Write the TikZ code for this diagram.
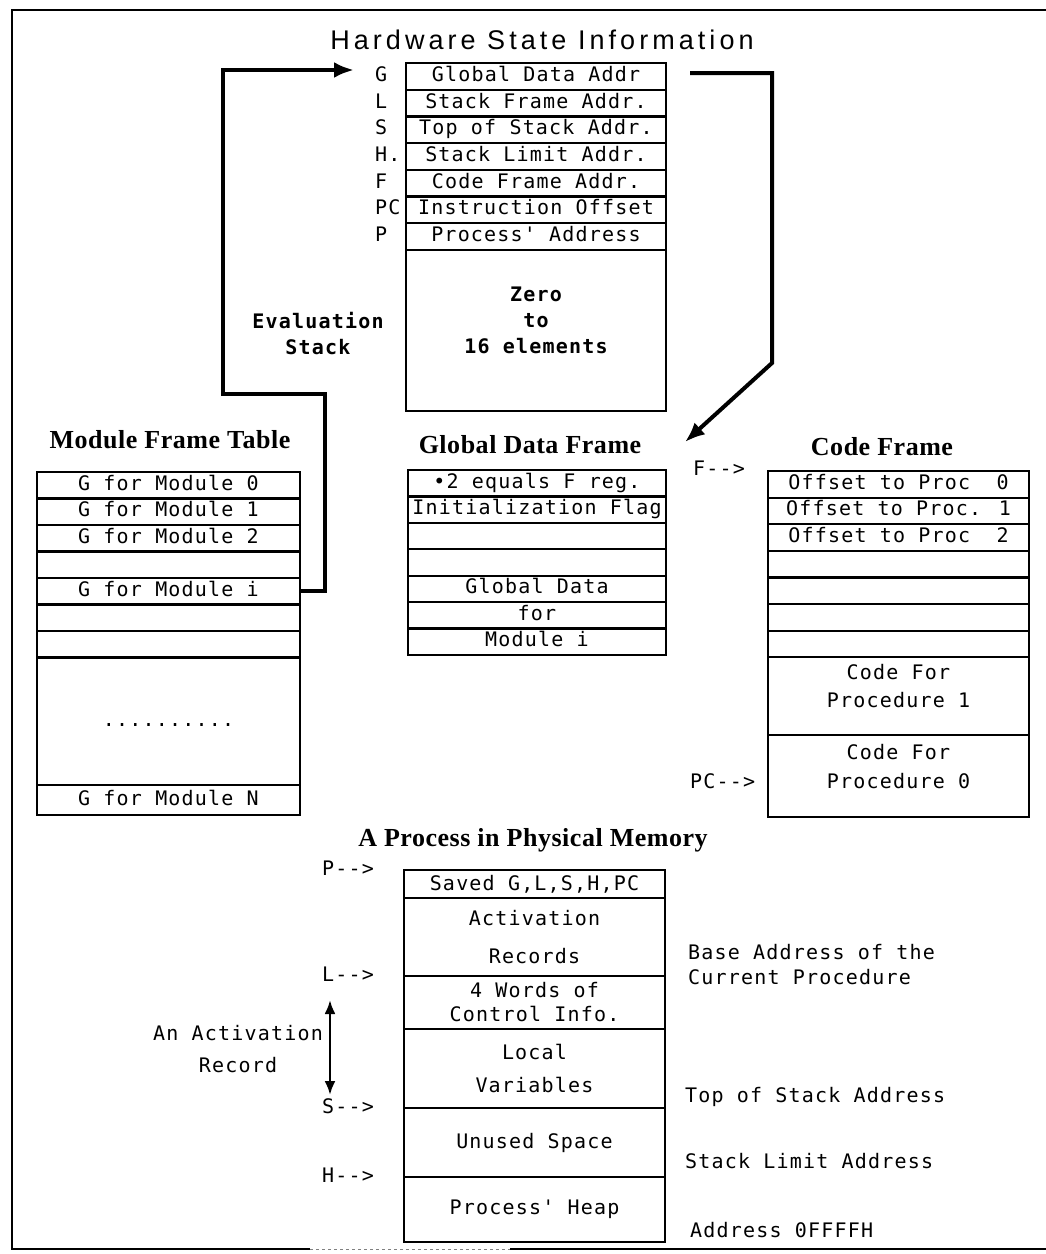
\documentclass[tikz,border=0pt]{standalone}
\usepackage{fontspec}
\usetikzlibrary{positioning,arrows.meta}
\newfontfamily\dm{DejaVu Sans Mono}[LetterSpace=6,Ligatures=TeXOff]
\newfontfamily\hd{Liberation Serif}[LetterSpace=2]
\newfontfamily\ttl{Liberation Sans}[LetterSpace=15]
\begin{document}
\begin{tikzpicture}[x=1pt,y=-1pt,
  mono/.style={font=\dm\fontsize{20}{24}\selectfont},
  cell/.style={mono, draw, line width=2.2pt, inner sep=0pt, outer sep=0pt, text height=14pt, text depth=4pt},
  multi/.style={mono, draw, line width=2.2pt, inner sep=0pt, outer sep=0pt, align=center},
  lab/.style={mono, inner sep=0pt, text height=14pt, text depth=4pt},
  ml/.style={mono, inner sep=0pt},
  hdg/.style={font=\hd\bfseries\fontsize{26}{30}\selectfont, inner sep=0pt},
  reg/.style={cell, minimum width=260pt, minimum height=26.7pt},
  mw/.style={cell, minimum width=263pt, minimum height=26.5pt},
  gw/.style={cell, minimum width=258pt, minimum height=26.4pt},
  cw/.style={cell, minimum width=261pt, minimum height=26.6pt},
  pw/.style={multi, minimum width=261pt},
  bigarrow/.style={line width=4pt, line join=miter, -{Latex[length=20pt,width=16pt]}},
]
\useasboundingbox (0,0) rectangle (1046,1254);
% frame
\draw[line width=2.6pt] (1046,10) -- (12,10) -- (12,1249) -- (310,1249);
\draw[line width=2.6pt] (510,1249) -- (1046,1249);
\draw[line width=1pt, gray, dashed] (310,1249) -- (510,1249);

% title
\node[font=\ttl\fontsize{27}{32}\selectfont, inner sep=0pt] (title) at (542,40) {Hardware State Information};

% registers
\node[reg, anchor=north] (rG) at (536,63) {Global Data Addr};
\node[reg, below=0pt of rG] (rL) {Stack Frame Addr.};
\node[reg, below=0pt of rL] (rS) {Top of Stack Addr.};
\node[reg, below=0pt of rS] (rH) {Stack Limit Addr.};
\node[reg, below=0pt of rH] (rF) {Code Frame Addr.};
\node[reg, below=0pt of rF] (rPC) {Instruction Offset};
\node[reg, below=0pt of rPC] (rP) {Process' Address};
\node[cell, minimum width=260pt, minimum height=161pt, below=0pt of rP] (evs) {};
\node[ml, font=\dm\bfseries\fontsize{20}{26}\selectfont, align=center] (zero) at (536,320) {Zero\\to\\16 elements};

\node[lab, anchor=west] (lG) at ([xshift=-31pt]rG.west) {G};
\node[lab, anchor=west] (lL) at ([xshift=-31pt]rL.west) {L};
\node[lab, anchor=west] (lS) at ([xshift=-31pt]rS.west) {S};
\node[lab, anchor=west] (lH) at ([xshift=-31pt]rH.west) {H.};
\node[lab, anchor=west] (lF) at ([xshift=-31pt]rF.west) {F};
\node[lab, anchor=west] (lPC) at ([xshift=-31pt]rPC.west) {PC};
\node[lab, anchor=west] (lP) at ([xshift=-31pt]rP.west) {P};

\node[ml, font=\dm\bfseries\fontsize{20}{26}\selectfont, align=center] (evl) at (318,334) {Evaluation\\Stack};

% module frame table
\node[hdg] (mft) at (170,440) {Module Frame Table};
\node[mw, anchor=north] (m0) at (168.5,472) {G for Module 0};
\node[mw, below=0pt of m0] (m1) {G for Module 1};
\node[mw, below=0pt of m1] (m2) {G for Module 2};
\node[mw, below=0pt of m2] (m3) {};
\node[mw, below=0pt of m3] (mi) {G for Module i};
\node[mw, below=0pt of mi] (m5) {};
\node[mw, below=0pt of m5] (m6) {};
\node[mw, minimum height=127.5pt, below=0pt of m6] (mdots) {..........};
\node[mw, minimum height=30pt, below=0pt of mdots] (mN) {G for Module N};

% global data frame
\node[hdg] (gdf) at (530,445) {Global Data Frame};
\node[gw, anchor=north] (g1) at (537,470) {•2 equals F reg.};
\node[gw, below=0pt of g1] (g2) {Initialization Flag};
\node[gw, below=0pt of g2] (g3) {};
\node[gw, below=0pt of g3] (g4) {};
\node[gw, below=0pt of g4] (g5) {Global Data};
\node[gw, below=0pt of g5] (g6) {for};
\node[gw, below=0pt of g6] (g7) {Module i};

% code frame
\node[hdg] (cfr) at (882,447) {Code Frame};
\node[lab, anchor=west] (pF) at (693,470) {F-->};
\node[cw, anchor=north] (c1) at (898.5,471) {Offset to Proc\ \ 0};
\node[cw, below=0pt of c1] (c2) {Offset to Proc. 1};
\node[cw, below=0pt of c2] (c3) {Offset to Proc\ \ 2};
\node[cw, below=0pt of c3] (c4) {};
\node[cw, below=0pt of c4] (c5) {};
\node[cw, below=0pt of c5] (c6) {};
\node[cw, below=0pt of c6] (c7) {};
\node[cw, minimum height=78pt, below=0pt of c7] (c8) {};
\node[cw, minimum height=82pt, below=0pt of c8] (c9) {};
\node[ml, align=center, font=\dm\fontsize{20}{28}\selectfont] (c8t) at (898.5,686) {Code For\\Procedure 1};
\node[ml, align=center, font=\dm\fontsize{20}{29}\selectfont] (c9t) at (898.5,767) {Code For\\Procedure 0};
\node[lab, anchor=west] (pPC) at (690,783) {PC-->};

% process in physical memory
\node[hdg] (ppm) at (533,840) {A Process in Physical Memory};
\node[pw, minimum height=28pt, anchor=north] (p1) at (534.5,870) {Saved G,L,S,H,PC};
\node[pw, minimum height=78pt, below=0pt of p1] (p2) {Activation\\[14pt]Records};
\node[pw, minimum height=53pt, below=0pt of p2] (p3) {4 Words of\\Control Info.};
\node[pw, minimum height=79pt, below=0pt of p3] (p4) {Local\\[9pt]Variables};
\node[pw, minimum height=69pt, below=0pt of p4] (p5) {Unused Space};
\node[pw, minimum height=65pt, below=0pt of p5] (p6) {Process' Heap};

\node[lab, anchor=west] (ptP) at ([xshift=-82pt]p1.north west) {P-->};
\node[lab, anchor=west] (ptL) at ([xshift=-82pt]p3.north west) {L-->};
\node[lab, anchor=west] (ptS) at ([xshift=-82pt]p5.north west) {S-->};
\node[lab, anchor=west] (ptH) at ([xshift=-82pt]p6.north west) {H-->};

\node[ml, align=left, anchor=west, font=\dm\fontsize{20}{25}\selectfont] (base) at (688,964.5) {Base Address of the\\Current Procedure};
\node[lab, anchor=west] (tos) at (685,1097) {Top of Stack Address};
\node[lab, anchor=west] (sla) at (685,1163) {Stack Limit Address};
\node[lab, anchor=west] (addr) at (690,1232) {Address 0FFFFH};

\node[ml, align=center] (actrec) at (238,1049) {An Activation\\[8pt]Record};
\coordinate (da1) at (330,1000);
\coordinate (da2) at (330,1095);
\draw[line width=2.6pt, {Latex[length=14pt,width=11pt]}-{Latex[length=14pt,width=11pt]}] (da1) -- (da2);

% arrows
\coordinate (tipL) at (354,70);
\draw[bigarrow] (mi.east) -- ++(25,0) -- (325,394) -- (223,394) -- (223,70) -- (tipL);
\coordinate (rstart) at (690,73);
\coordinate (rtip) at (685,442);
\draw[bigarrow] (rstart) -- (772,73) -- (772,363) -- (rtip);
\end{tikzpicture}
\end{document}
